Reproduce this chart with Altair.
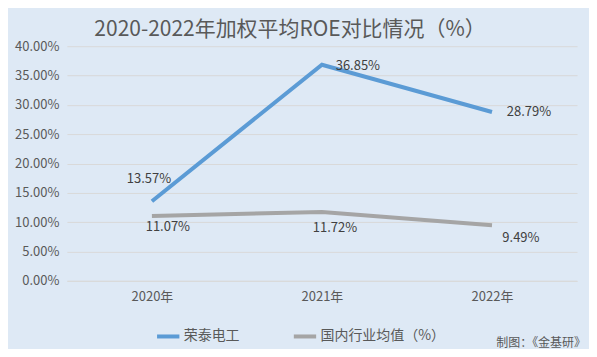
import altair as alt
import pandas as pd

years = ["2020年", "2021年", "2022年"]
series_names = ["荣泰电工", "国内行业均值（%）"]
rongtai = [13.57, 36.85, 28.79]
industry = [11.07, 11.72, 9.49]

rows = []
for name, vals in zip(series_names, [rongtai, industry]):
    for y, v in zip(years, vals):
        rows.append({"year": y, "series": name, "value": v / 100, "label": f"{v:.2f}%"})
df = pd.DataFrame(rows)

FONT = "Noto Sans CJK SC"
BG = "#dee9f5"
tick_vals = [0, 0.05, 0.1, 0.15, 0.2, 0.25, 0.3, 0.35, 0.4]

x = alt.X("year:N", sort=years, title=None,
          axis=alt.Axis(labelAngle=0, labelColor="#595959", labelFontSize=13, labelFont=FONT,
                        domainColor="#d9d9d9", ticks=False, labelPadding=10,
                        domain=True))
y = alt.Y("value:Q", scale=alt.Scale(domain=[0, 0.4]), title=None,
          axis=alt.Axis(format=".2%", values=tick_vals,
                        labelOverlap=False,
                        labelColor="#595959", labelFontSize=13, labelFont=FONT,
                        gridColor="#d9d9d9", domain=False, ticks=False, labelPadding=8))

color = alt.Color("series:N", sort=series_names,
                  scale=alt.Scale(domain=series_names, range=["#5b9bd5", "#a5a5a5"]),
                  legend=alt.Legend(title=None, orient="none", legendX=88, legendY=277,
                                    direction="horizontal", symbolType="stroke",
                                    symbolStrokeWidth=4, symbolSize=500,
                                    labelFontSize=14, labelColor="#595959", labelFont=FONT,
                                    columnPadding=46, labelOffset=2))

base = alt.Chart(df)
lines = base.mark_line(strokeWidth=4).encode(x=x, y=y, color=color)

# label offsets per point
offsets = {
    ("荣泰电工", "2020年"): (-3, -22),
    ("荣泰电工", "2021年"): (36, 1),
    ("荣泰电工", "2022年"): (37, 0),
    ("国内行业均值（%）", "2020年"): (16, 11),
    ("国内行业均值（%）", "2021年"): (13, 16),
    ("国内行业均值（%）", "2022年"): (29, 13),
}
texts = []
for (s, yr), (dx, dy) in offsets.items():
    texts.append(
        base.transform_filter((alt.datum.series == s) & (alt.datum.year == yr))
        .mark_text(dx=dx, dy=dy, fontSize=13, color="#404040", font=FONT)
        .encode(x=x, y=y, text="label:N")
    )

note = alt.Chart(pd.DataFrame({"t": ["制图：《金基研》"]})).mark_text(
    align="right", fontSize=12, color="#595959", font=FONT
).encode(x=alt.value(520), y=alt.value(297), text="t:N")

chart = alt.layer(lines, *texts, note).properties(
    width=511, height=235,
    padding={"left": 59, "top": 38, "right": 12, "bottom": 68},
    autosize="none",
    background=BG,
    title=alt.TitleParams("2020-2022年加权平均ROE对比情况（%）", fontSize=21, font=FONT,
                          color="#595959", fontWeight="normal", anchor="middle", offset=0,
                          dx=-32),
).configure_view(stroke=None)

chart.save("out.html", embed_options={"renderer": "svg", "actions": False})
